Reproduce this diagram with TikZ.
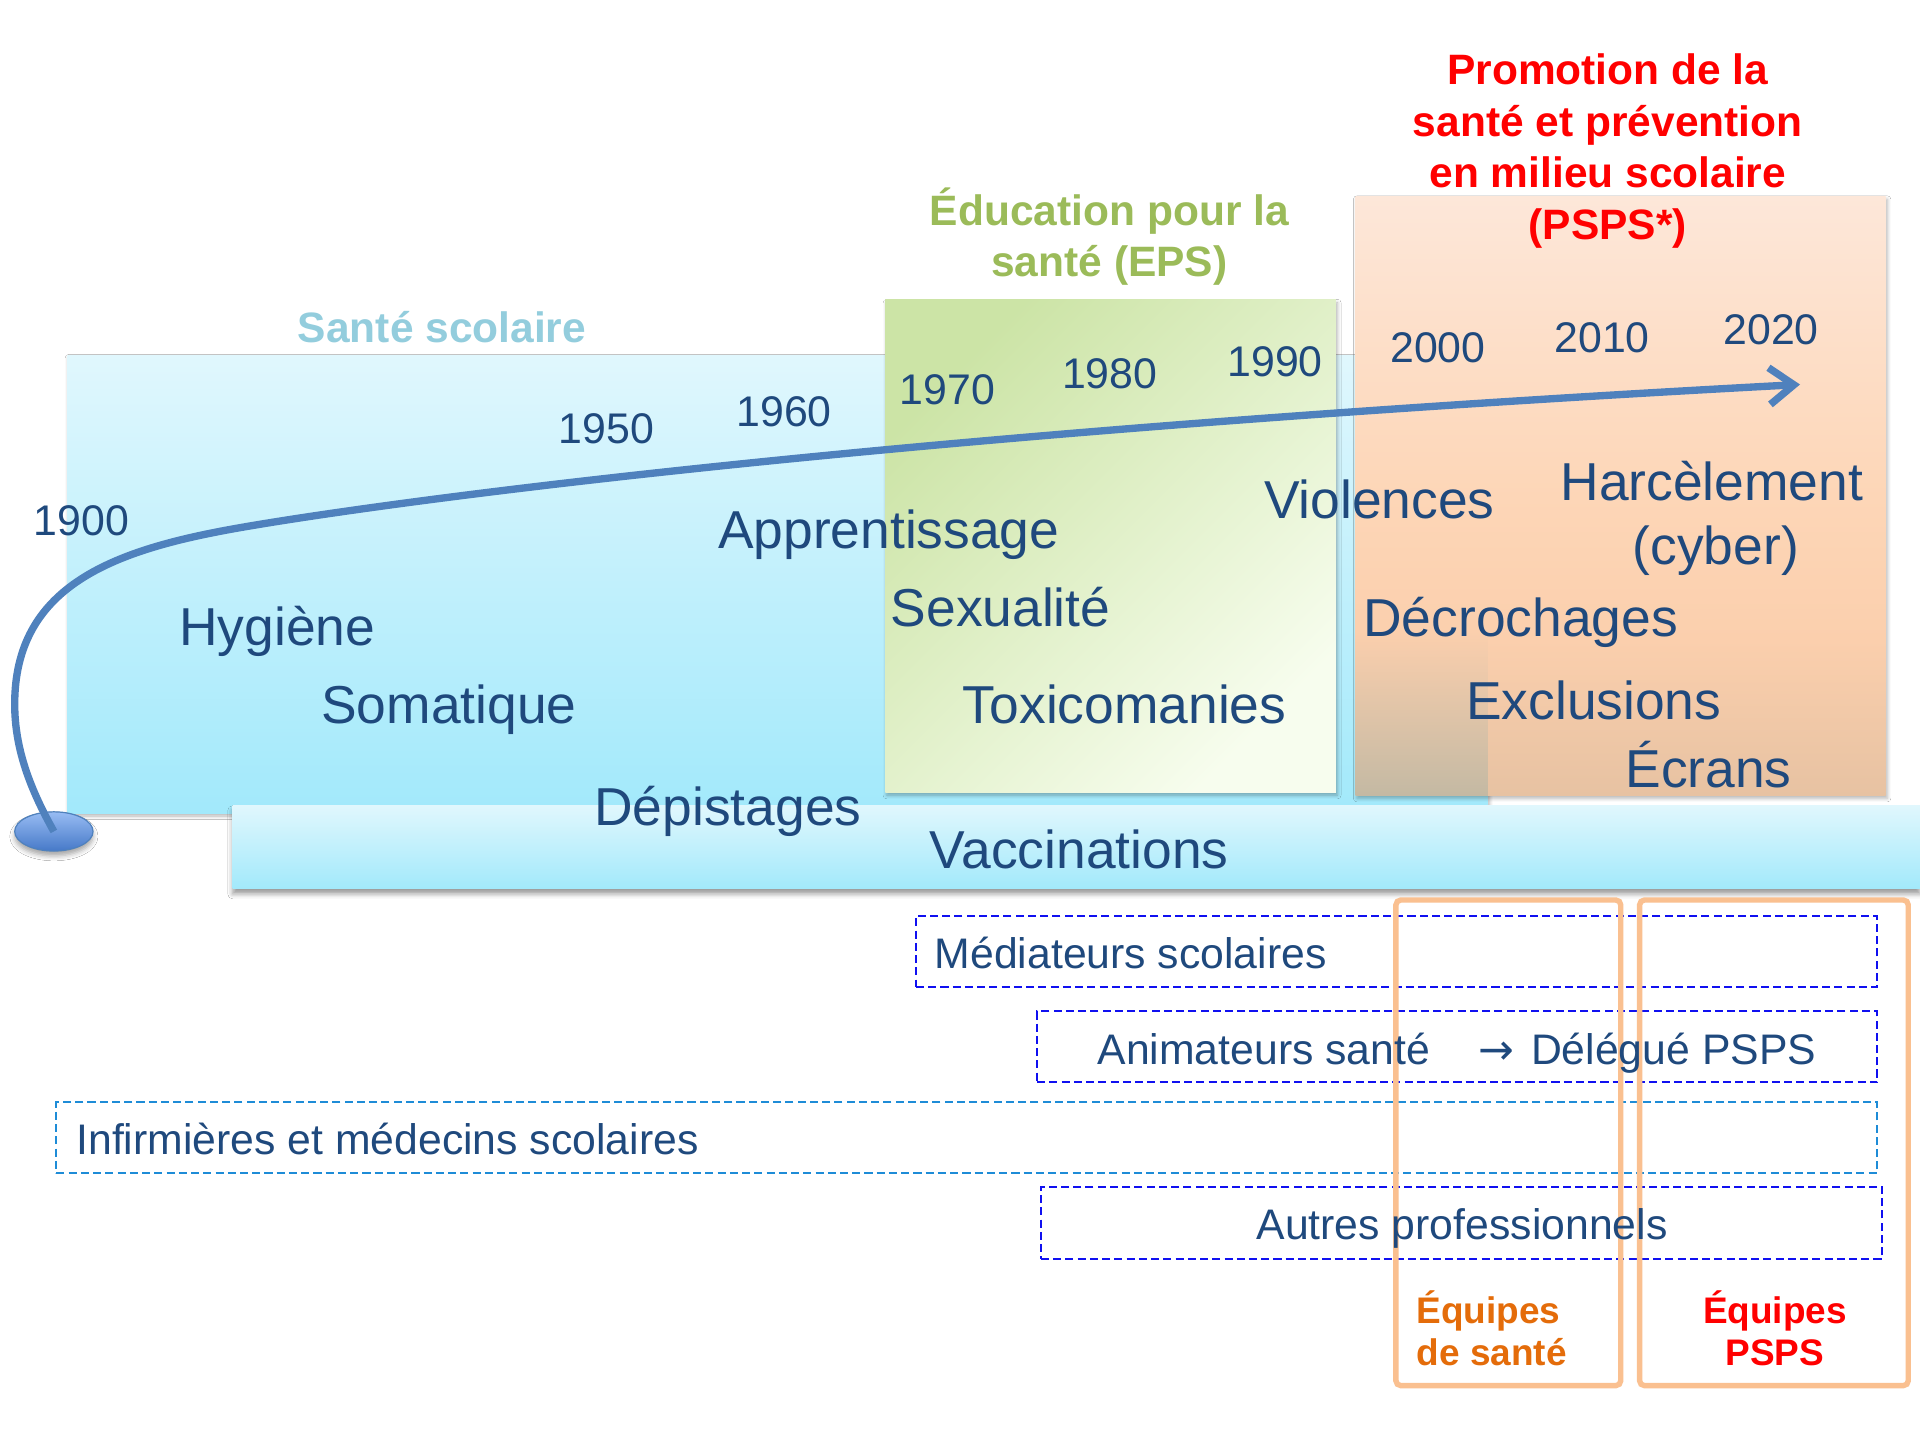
\documentclass[tikz,border=0pt]{standalone}
\usepackage{fontspec}
\setmainfont{Liberation Sans}
\newfontfamily\arrowfont{DejaVu Sans}
\usetikzlibrary{shapes.geometric,arrows.meta,shadows.blur}

\definecolor{txt}{HTML}{1F497D}
\definecolor{titleblue}{HTML}{93CDDD}
\definecolor{titlegreen}{HTML}{9BBB59}
\definecolor{titlered}{HTML}{FF0000}
\definecolor{orangetxt}{HTML}{E46C0A}
\definecolor{orangeline}{HTML}{FAC090}
\definecolor{bluetop}{HTML}{E0F7FD}
\definecolor{bluebot}{HTML}{A2E9FB}
\definecolor{greenA}{HTML}{CCE4A6}
\definecolor{greenB}{HTML}{F7FDEE}
\definecolor{orA}{HTML}{FDE7D9}
\definecolor{orB}{HTML}{FDD6B7}
\definecolor{orC}{HTML}{FBCFAD}
\definecolor{orD}{HTML}{E7C2A2}
\definecolor{tintbot}{HTML}{C4B9A3}
\definecolor{arrowblue}{HTML}{4F81BD}
\definecolor{ellTop}{HTML}{98BCF3}
\definecolor{ellBot}{HTML}{4679C8}
\definecolor{dashblue}{HTML}{1010F0}
\definecolor{dashlight}{HTML}{1E8CD7}

\pgfdeclareverticalshading{orangeshade}{100bp}{color(0bp)=(orD); color(25bp)=(orD); color(38bp)=(orC); color(50bp)=(orB); color(75bp)=(orA); color(100bp)=(orA)}

\tikzset{
  yearlbl/.style={font=\fontsize{17.5}{20}\selectfont, text=txt, anchor=base west, inner sep=0pt},
  biglbl/.style={font=\fontsize{21.8}{25}\selectfont, text=txt, anchor=base west, inner sep=0pt},
  titlelbl/.style={font=\fontsize{17.35}{20.75}\selectfont\bfseries, anchor=base, inner sep=0pt},
  boxlbl/.style={font=\fontsize{17.45}{21}\selectfont, text=txt, inner sep=0pt},
  teamlbl/.style={font=\fontsize{15.1}{18}\selectfont\bfseries, inner sep=0pt},
  dashbox/.style={draw=dashblue, line width=0.8pt, dash pattern=on 3.3pt off 1.7pt, inner sep=0pt},
  teambox/.style={draw=orangeline, line width=2.2pt, rounded corners=2pt, inner sep=0pt},
  boxshadow/.style={blur shadow={shadow xshift=0.6pt, shadow yshift=-1.2pt, shadow blur radius=1.5pt, shadow opacity=30}},
  panel/.style={rectangle, inner sep=0pt, boxshadow},
  arrowline/.style={draw=arrowblue, line width=3pt, -{Straight Barb[length=10pt,width=15pt]}},
}

\begin{document}
\begin{tikzpicture}[x=0.5pt,y=-0.5pt]
\useasboundingbox (0,0) rectangle (1568,1176);
\fill[white] (0,0) rectangle (1568,1176);

% panels
\node[panel, top color=bluetop, bottom color=bluebot, minimum width=580pt, minimum height=187pt] (sante) at (635,477) {};
\node[panel, top color=greenA, bottom color=greenB, shading angle=45, minimum width=184pt, minimum height=201pt] (eps) at (907,446) {};
\node[panel, shade, shading=orangeshade, minimum width=216.5pt, minimum height=244.5pt] (psps) at (1323.5,405) {};
\shade[top color=orC, bottom color=tintbot] (1107,515) rectangle (1215,649.5);
\node[rectangle, inner sep=0pt, top color=bluetop, bottom color=bluebot, minimum width=689pt, minimum height=34pt,
      blur shadow={shadow xshift=0pt, shadow yshift=-2pt, shadow blur radius=2pt, shadow opacity=40}] (band) at (879,692) {};

% start ellipse and timeline arrow
\node[ellipse, draw=arrowblue, line width=0.5pt, top color=ellTop, bottom color=ellBot, minimum width=32pt, minimum height=16pt, inner sep=0pt,
      blur shadow={shadow xshift=0pt, shadow yshift=-2pt, shadow blur radius=2pt, shadow opacity=35}] (start) at (44,679) {};
\coordinate (tip) at (1470,314);
\draw[arrowline] (start.center) .. controls (25,645) and (12,612) .. (12,575)
   .. controls (12,480) and (90,450) .. (190,432)
   .. controls (290,414) and (700,355) .. (tip);

% titles
\node[titlelbl, text=titleblue] (tsante) at (361,279.5) {Santé scolaire};
\node[titlelbl, text=titlegreen] (teps1) at (906,184.5) {Éducation pour la};
\node[titlelbl, text=titlegreen] (teps2) at (906,225.7) {santé (EPS)};
\node[titlelbl, text=titlered] (tp1) at (1313,69.4) {Promotion de la};
\node[titlelbl, text=titlered] (tp2) at (1313,111.4) {santé et prévention};
\node[titlelbl, text=titlered] (tp3) at (1313,153.4) {en milieu scolaire};
\node[titlelbl, text=titlered] (tp4) at (1313,195.2) {(PSPS*)};

% years
\node[yearlbl] (y1900) at (27,437) {1900};
\node[yearlbl] (y1950) at (456,362) {1950};
\node[yearlbl] (y1960) at (601,348.5) {1960};
\node[yearlbl] (y1970) at (734.5,330) {1970};
\node[yearlbl] (y1980) at (867,317.5) {1980};
\node[yearlbl] (y1990) at (1002,307.5) {1990};
\node[yearlbl] (y2000) at (1135,296) {2000};
\node[yearlbl] (y2010) at (1269,287.5) {2010};
\node[yearlbl] (y2020) at (1407,281) {2020};

% themes
\node[biglbl] (hyg) at (146,527) {Hygiène};
\node[biglbl] (som) at (262,591) {Somatique};
\node[biglbl] (app) at (586,448) {Apprentissage};
\node[biglbl] (sex) at (727,512) {Sexualité};
\node[biglbl] (tox) at (786,590.5) {Toxicomanies};
\node[biglbl] (dep) at (485,674) {Dépistages};
\node[biglbl] (vac) at (759,709) {Vaccinations};
\node[biglbl] (vio) at (1032,423.5) {Violences};
\node[biglbl] (har) at (1274,409) {Harcèlement};
\node[biglbl] (cyb) at (1333,461) {(cyber)};
\node[biglbl] (dec) at (1113,519.5) {Décrochages};
\node[biglbl] (exc) at (1197,587.5) {Exclusions};
\node[biglbl] (ecr) at (1327,643) {Écrans};

% actors boxes
\node[dashbox, minimum width=392.5pt, minimum height=29pt] (med) at (1140.5,777) {};
\node[dashbox, minimum width=343pt, minimum height=29pt] (anim) at (1190,855) {};
\node[dashbox, draw=dashlight, minimum width=743.5pt, minimum height=29pt] (inf) at (789.5,929) {};
\node[dashbox, minimum width=343.5pt, minimum height=29.5pt] (autres) at (1193.5,998.5) {};

\node[teambox, minimum width=91.8pt, minimum height=198.3pt] (eqsante) at (1231.8,933.3) {};
\node[teambox, minimum width=109.7pt, minimum height=198.3pt] (eqpsps) at (1448.7,933.3) {};

\node[boxlbl, anchor=base west] (lmed) at (763,791) {Médiateurs scolaires};
\node[boxlbl, anchor=base west] (lanim) at (896,869) {Animateurs santé};
\node[boxlbl, anchor=base west] (larr) at (1207,869) {\arrowfont →};
\node[boxlbl, anchor=base west] (ldel) at (1250,869) {Délégué PSPS};
\node[boxlbl, anchor=base west] (linf) at (62,943) {Infirmières et médecins scolaires};
\node[boxlbl, anchor=base] (laut) at (1194,1012) {Autres professionnels};

\node[teamlbl, anchor=base west, text=orangetxt] (les1) at (1156.5,1081) {Équipes};
\node[teamlbl, anchor=base west, text=orangetxt] (les2) at (1156.5,1115.5) {de santé};
\node[teamlbl, anchor=base, text=titlered] (lep1) at (1449.5,1081) {Équipes};
\node[teamlbl, anchor=base, text=titlered] (lep2) at (1449.5,1115.5) {PSPS};
\end{tikzpicture}
\end{document}
